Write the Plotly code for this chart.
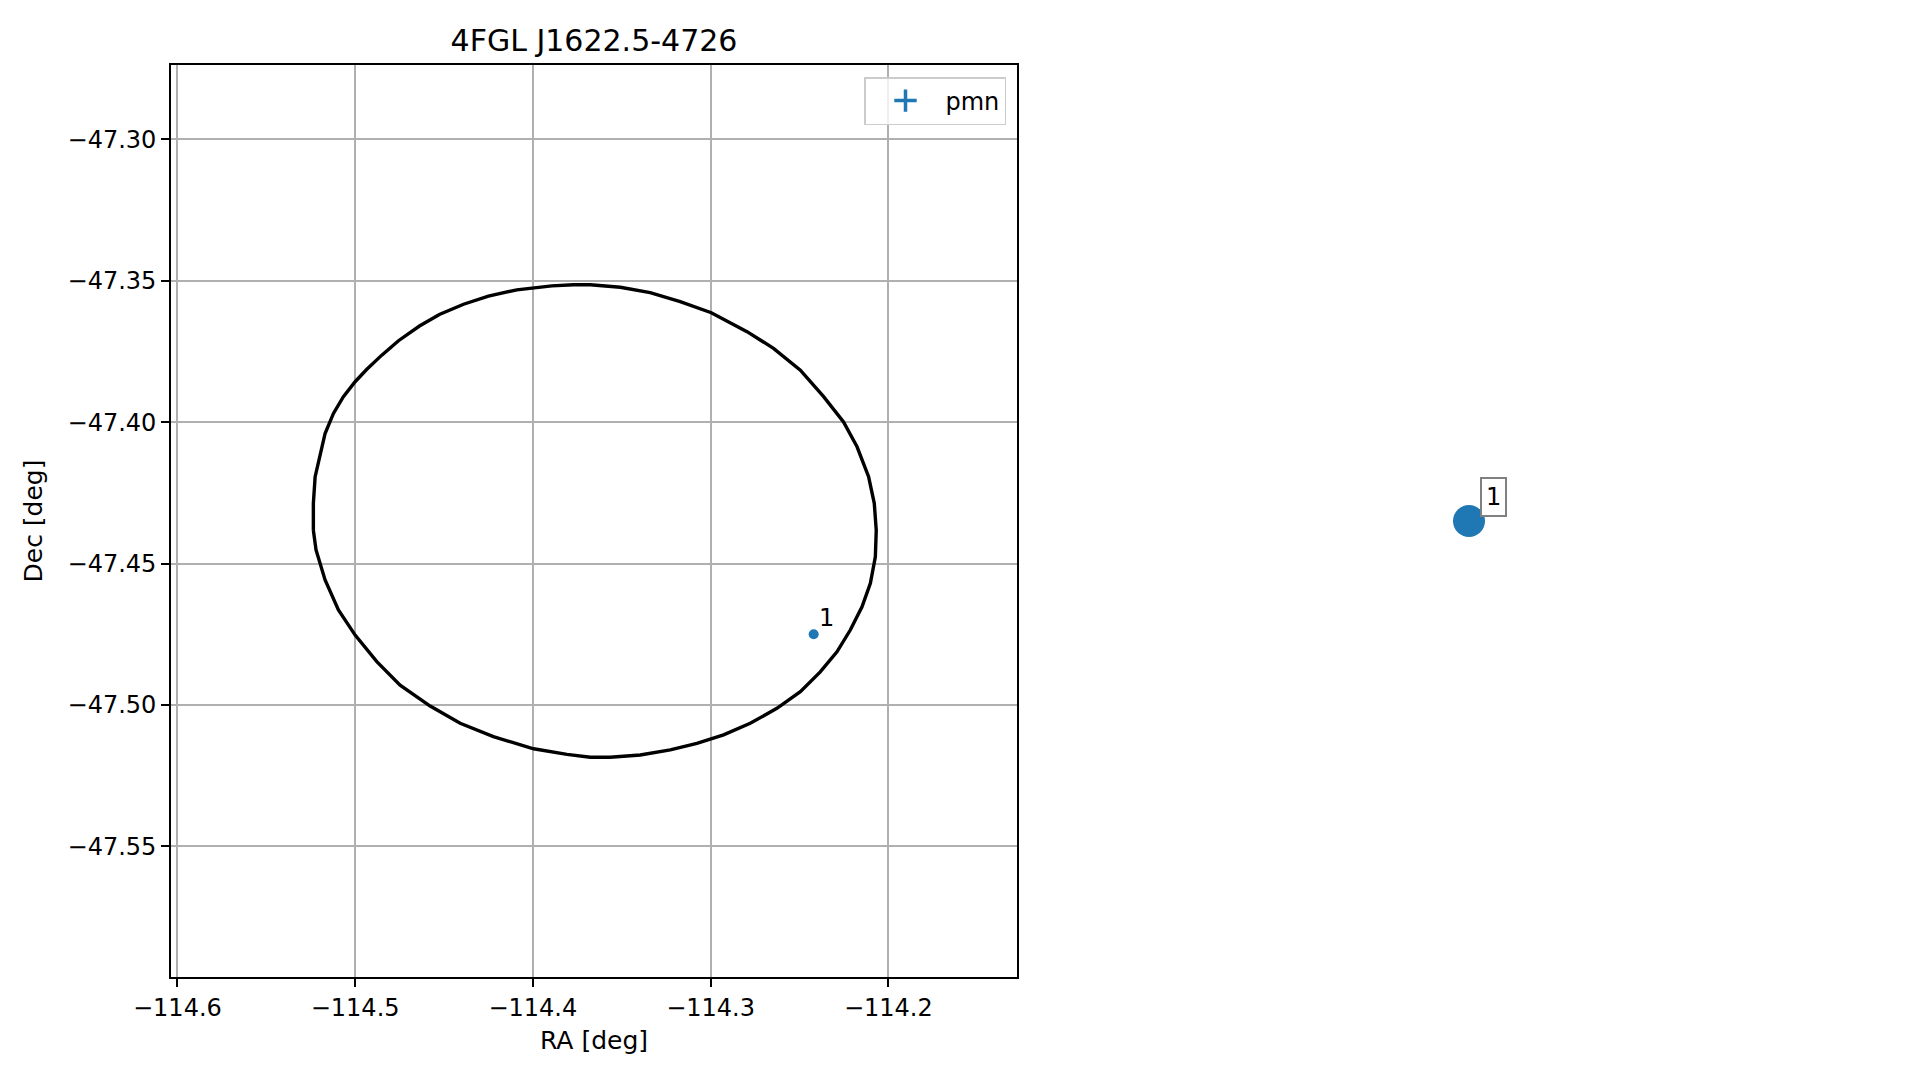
import plotly.graph_objects as go

# ---- data ----
title_text = "4FGL J1622.5-4726"
src_name = "pmn"
src_ra = [-114.2420]
src_dec = [-47.4750]
src_labels = ["1"]

ell_ra = [-114.5235, -114.5235, -114.5225, -114.5201, -114.5169, -114.5122, -114.5066,
          -114.5000, -114.4934, -114.4850, -114.4756, -114.4638, -114.4526, -114.4390,
          -114.4250, -114.4090, -114.3893, -114.3771, -114.3677, -114.3508, -114.3340,
          -114.3171, -114.2996, -114.2795, -114.2646, -114.2495, -114.2364, -114.2252,
          -114.2176, -114.2111, -114.2079, -114.2068, -114.2073, -114.2101, -114.2148,
          -114.2214, -114.2289, -114.2383, -114.2495, -114.2627, -114.2777, -114.2927,
          -114.3077, -114.3227, -114.3396, -114.3565, -114.3677, -114.3808, -114.3996,
          -114.4222, -114.4409, -114.4578, -114.4747, -114.4878, -114.5000, -114.5094,
          -114.5169, -114.5220, -114.5235]
ell_dec = [-47.4382, -47.4287, -47.4193, -47.4122, -47.4040, -47.3969, -47.3910,
           -47.3857, -47.3813, -47.3763, -47.3712, -47.3660, -47.3619, -47.3583,
           -47.3554, -47.3532, -47.3518, -47.3514, -47.3514, -47.3523, -47.3542,
           -47.3574, -47.3613, -47.3680, -47.3739, -47.3816, -47.3910, -47.3999,
           -47.4087, -47.4193, -47.4287, -47.4382, -47.4476, -47.4570, -47.4653,
           -47.4735, -47.4812, -47.4883, -47.4953, -47.5012, -47.5065, -47.5106,
           -47.5136, -47.5159, -47.5177, -47.5185, -47.5185, -47.5175, -47.5155,
           -47.5112, -47.5065, -47.5004, -47.4930, -47.4847, -47.4753, -47.4664,
           -47.4558, -47.4452, -47.4382]

x_tickvals = [-114.6, -114.5, -114.4, -114.3, -114.2]
x_ticktext = ["\u2212114.6", "\u2212114.5", "\u2212114.4", "\u2212114.3", "\u2212114.2"]
y_tickvals = [-47.30, -47.35, -47.40, -47.45, -47.50, -47.55]
y_ticktext = ["\u221247.30", "\u221247.35", "\u221247.40", "\u221247.45", "\u221247.50", "\u221247.55"]

# zoomed panel (single source, centred)
zoom_x = [0]
zoom_y = [0]

BLUE = "#1f77b4"
FONT = "DejaVu Sans"
W, H = 1919, 1080

fig = go.Figure()

fig.add_trace(go.Scatter(x=ell_ra, y=ell_dec, mode="lines",
                         line=dict(color="black", width=3.4),
                         showlegend=False, hoverinfo="skip"))

fig.add_trace(go.Scatter(x=src_ra, y=src_dec, mode="markers",
                         marker=dict(color=BLUE, size=10),
                         name=src_name, showlegend=False))

# legend-only entry mimicking an errorbar glyph
fig.add_trace(go.Scatter(x=[None], y=[None], mode="markers", name=src_name,
                         marker=dict(symbol="cross-thin", size=16, color=BLUE,
                                     line=dict(color=BLUE, width=3.5))))

fig.add_trace(go.Scatter(x=zoom_x, y=zoom_y, mode="markers", xaxis="x2", yaxis="y2",
                         marker=dict(color=BLUE, size=32), showlegend=False))

for xv, yv, t in zip(src_ra, src_dec, src_labels):
    fig.add_annotation(x=xv, y=yv, text=t, showarrow=False, xshift=13, yshift=16,
                       font=dict(family=FONT, size=24, color="black"))

for xv, yv, t in zip(zoom_x, zoom_y, src_labels):
    fig.add_annotation(x=xv, y=yv, xref="x2", yref="y2", text=t, showarrow=False,
                       xshift=24, yshift=24, bgcolor="white",
                       bordercolor="#808080", borderwidth=2, borderpad=4,
                       font=dict(family=FONT, size=24, color="black"))

ax_common = dict(showline=True, linecolor="black", linewidth=1.7, mirror=True,
                 ticks="outside", ticklen=8, tickwidth=1.7, tickcolor="black",
                 showgrid=True, gridcolor="#b0b0b0", gridwidth=1.6, automargin=False,
                 zeroline=False, tickfont=dict(family=FONT, size=24, color="black"))

fig.update_layout(
    width=W, height=H,
    margin=dict(l=0, r=0, t=0, b=0, autoexpand=False),
    paper_bgcolor="white", plot_bgcolor="white",
    font=dict(family=FONT, size=24, color="black"),
    title=dict(text=title_text, x=(171 + 1017) / 2 / W, xanchor="center",
               y=1 - 40 / H, yanchor="middle", xref="paper",
               font=dict(family=FONT, size=30, color="black")),
    xaxis=dict(domain=[171 / W, 1017 / W], range=[-114.6036, -114.1276],
               tickvals=x_tickvals, ticktext=x_ticktext,
               title=dict(text="RA [deg]", standoff=11,
                          font=dict(family=FONT, size=25)), **ax_common),
    yaxis=dict(domain=[1 - 977 / H, 1 - 65 / H], range=[-47.5962, -47.2737],
               tickvals=y_tickvals, ticktext=y_ticktext,
               title=dict(text="Dec [deg]", standoff=18,
                          font=dict(family=FONT, size=25)), **ax_common),
    xaxis2=dict(domain=[(1469 - 300) / W, (1469 + 300) / W], range=[-1, 1],
                visible=False, anchor="y2"),
    yaxis2=dict(domain=[1 - 977 / H, 1 - 65 / H], range=[-1, 1],
                visible=False, anchor="x2"),
    legend=dict(x=1006 / W, y=1 - 77 / H, xanchor="right", yanchor="top",
                itemwidth=70,
                bgcolor="rgba(255,255,255,0.8)", bordercolor="#cccccc", borderwidth=1.5,
                font=dict(family=FONT, size=24, color="black")),
)

fig.write_html("out.html", config={"displayModeBar": False},
               post_script="document.body.style.margin='0';document.body.style.overflow='hidden';")
